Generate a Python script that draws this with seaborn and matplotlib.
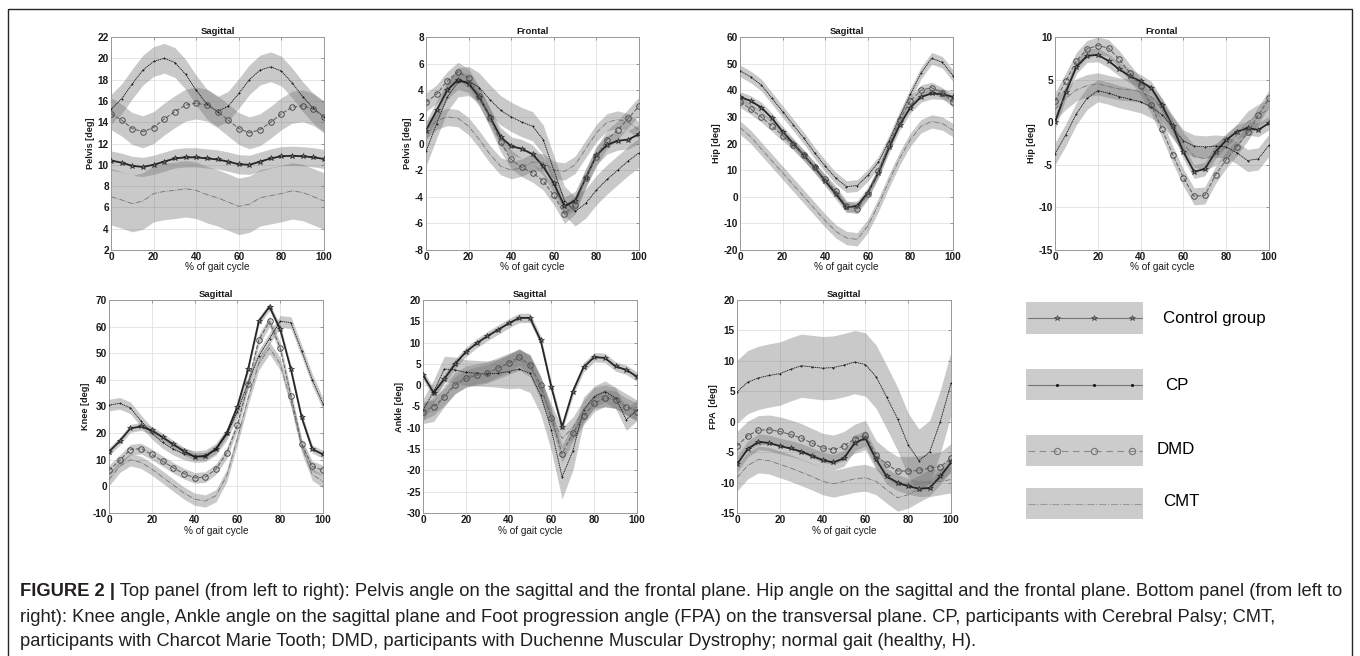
import numpy as np
import matplotlib
matplotlib.use("Agg")
import matplotlib.pyplot as plt
import seaborn as sns
from matplotlib.patches import Rectangle

# ---------------- data (every 5 % of gait cycle) ----
PCT = [0, 5, 10, 15, 20, 25, 30, 35, 40, 45, 50, 55, 60, 65, 70, 75, 80, 85, 90, 95, 100]
GROUPS = ["Control group", "CP", "DMD", "CMT"]

# Pelvis – sagittal
PS_CTRL = [10.4, 10.2, 9.9, 9.8, 10.0, 10.3, 10.6, 10.7, 10.7, 10.6, 10.5, 10.3, 10.05, 10.0, 10.3, 10.6, 10.8, 10.85, 10.8, 10.7, 10.55]
PS_CTRL_SD = 0.9
PS_CP = [15.2, 16.2, 17.6, 18.9, 19.7, 20.0, 19.6, 18.5, 17.0, 15.7, 15.0, 15.5, 16.7, 18.0, 18.9, 19.2, 18.8, 17.7, 16.4, 15.3, 14.5]
PS_CP_SD = 1.4
PS_DMD = [14.8, 14.2, 13.4, 13.1, 13.5, 14.3, 15.0, 15.6, 15.8, 15.6, 15.0, 14.2, 13.4, 13.0, 13.3, 14.0, 14.8, 15.4, 15.55, 15.2, 14.5]
PS_DMD_SD = 1.5
PS_CMT = [7.0, 6.7, 6.35, 6.6, 7.3, 7.5, 7.6, 7.75, 7.6, 7.2, 6.9, 6.5, 6.1, 6.3, 6.9, 7.1, 7.3, 7.55, 7.4, 7.0, 6.6]
PS_CMT_SD = 2.65

# Pelvis – frontal
PF_CTRL = [0.95, 2.5, 4.0, 4.8, 4.5, 3.5, 2.0, 0.5, -0.2, -0.4, -0.8, -1.7, -3.0, -4.7, -4.3, -2.6, -0.9, -0.1, 0.2, 0.3, 0.7]
PF_CTRL_SD = 0.7
PF_CP = [-0.6, 1.5, 3.5, 4.6, 4.7, 4.2, 3.3, 2.5, 2.0, 1.6, 1.3, 0.3, -2.0, -4.3, -5.1, -4.5, -3.5, -2.7, -2.0, -1.3, -0.7]
PF_CP_SD = 1.1
PF_DMD = [3.1, 3.7, 4.7, 5.4, 4.9, 3.6, 1.9, 0.1, -1.2, -1.8, -2.2, -2.8, -3.9, -5.3, -4.6, -2.6, -1.0, 0.3, 1.0, 1.9, 2.8]
PF_DMD_SD = 0.7
PF_CMT = [1.0, 1.7, 2.0, 1.9, 1.3, 0.3, -0.8, -1.7, -2.0, -1.8, -1.4, -1.4, -2.0, -2.1, -1.6, -0.4, 0.8, 1.6, 1.8, 1.6, 1.0]
PF_CMT_SD = 0.65

# Hip – sagittal
HS_CTRL = [37.5, 36.0, 33.5, 29.5, 24.5, 20.0, 15.5, 11.0, 6.0, 1.0, -4.0, -3.5, 1.5, 9.0, 18.5, 27.0, 33.5, 37.5, 38.8, 38.5, 37.5]
HS_CTRL_SD = 2.0
HS_CP = [47.3, 45.0, 42.0, 37.0, 32.0, 27.0, 22.0, 16.5, 11.5, 7.0, 3.8, 4.2, 8.0, 13.0, 21.0, 30.0, 38.5, 46.5, 52.0, 50.5, 45.5]
HS_CP_SD = 2.2
HS_DMD = [35.5, 33.0, 30.0, 26.5, 23.0, 19.5, 15.5, 11.0, 6.5, 2.0, -3.5, -4.5, 1.0, 9.5, 19.5, 29.0, 36.0, 40.0, 41.0, 39.0, 35.5]
HS_DMD_SD = 2.0
HS_CMT = [26.0, 22.5, 18.0, 13.5, 9.0, 4.5, 0.0, -4.5, -9.0, -13.0, -15.5, -16.0, -11.0, -3.0, 6.0, 14.5, 21.5, 26.5, 28.3, 27.5, 25.0]
HS_CMT_SD = 2.5

# Hip – frontal
HF_CTRL = [0.0, 3.5, 6.5, 7.8, 7.9, 7.2, 6.2, 5.4, 4.8, 4.0, 2.0, -0.5, -3.5, -5.8, -5.5, -3.5, -2.1, -1.1, -0.7, -0.9, -0.1]
HF_CTRL_SD = 0.8
HF_CP = [-3.7, -1.5, 1.0, 2.8, 3.7, 3.4, 3.0, 2.7, 2.4, 1.8, 0.9, -0.6, -2.2, -2.8, -2.9, -2.8, -2.9, -3.6, -4.5, -4.3, -2.7]
HF_CP_SD = 1.3
HF_DMD = [2.5, 4.8, 7.2, 8.6, 9.0, 8.7, 7.4, 5.8, 4.2, 2.0, -0.8, -3.8, -6.5, -8.7, -8.6, -6.2, -4.4, -2.9, -1.2, 0.8, 2.8]
HF_DMD_SD = 1.0
HF_CMT = [1.5, 2.8, 3.8, 4.3, 4.5, 4.2, 3.9, 3.8, 3.6, 3.0, 1.5, -0.5, -2.5, -4.0, -4.3, -3.8, -2.8, -1.5, 0.0, 0.8, 1.5]
HF_CMT_SD = 1.3

# Knee – sagittal
KN_CTRL = [13.0, 17.0, 21.8, 22.5, 21.0, 18.5, 15.8, 13.2, 11.2, 11.3, 14.0, 20.0, 30.0, 44.0, 62.0, 67.5, 59.0, 44.0, 26.0, 14.0, 12.0]
KN_CTRL_SD = 1.5
KN_CP = [30.5, 31.2, 29.5, 24.5, 20.0, 16.5, 14.0, 12.2, 11.2, 11.5, 14.0, 19.5, 28.0, 39.0, 49.0, 55.5, 62.0, 61.5, 51.0, 40.0, 31.0]
KN_CP_SD = 2.2
KN_DMD = [6.0, 9.8, 13.8, 14.2, 12.0, 9.5, 7.0, 4.8, 3.2, 3.5, 6.5, 12.5, 23.0, 38.5, 55.0, 62.0, 52.0, 34.0, 16.0, 7.5, 6.0]
KN_DMD_SD = 2.0
KN_CMT = [2.5, 7.5, 10.0, 9.0, 6.5, 3.5, 0.5, -2.5, -4.8, -5.5, -3.5, 4.0, 18.0, 33.0, 46.0, 52.0, 46.0, 32.0, 15.0, 4.5, 1.8]
KN_CMT_SD = 2.3

# Ankle – sagittal
AN_CTRL = [2.4, -1.8, 1.5, 5.0, 7.8, 9.8, 11.5, 13.0, 14.5, 15.8, 15.8, 10.5, -0.5, -9.8, -1.5, 4.2, 6.6, 6.4, 4.4, 3.6, 2.0]
AN_CTRL_SD = 1.1
AN_CP = [-5.8, -1.5, 3.8, 3.6, 3.0, 2.8, 2.7, 2.8, 3.2, 3.8, 2.8, -2.3, -10.5, -21.5, -15.5, -5.8, -2.7, -1.5, -3.0, -8.1, -5.8]
AN_CP_SD = [2.5, 2.8, 3.0, 3.0, 3.0, 3.0, 3.0, 3.3, 4.0, 4.5, 4.5, 4.5, 5.0, 5.2, 4.5, 3.0, 2.5, 2.5, 2.5, 2.5, 2.5]
AN_DMD = [-6.2, -5.0, -2.7, 0.0, 1.6, 2.3, 2.8, 4.0, 5.2, 6.6, 4.8, 0.0, -7.7, -16.1, -11.2, -7.3, -4.2, -3.0, -3.4, -5.0, -6.2]
AN_DMD_SD = 2.0
AN_CMT = [-6.5, -6.0, -2.5, 0.5, 2.0, 2.5, 3.0, 4.0, 5.0, 6.0, 4.5, -1.0, -7.0, -12.5, -10.0, -6.0, -3.0, -2.5, -3.0, -4.5, -6.0]
AN_CMT_SD = 2.5

# Foot progression angle
FP_CTRL = [-7.0, -4.5, -3.3, -3.5, -4.0, -4.4, -4.9, -5.6, -6.3, -6.7, -6.0, -3.5, -2.7, -6.2, -9.0, -10.0, -10.6, -11.0, -10.9, -9.0, -6.7]
FP_CTRL_SD = 1.3
FP_CP = [4.9, 6.5, 7.2, 7.6, 7.9, 8.6, 9.2, 9.0, 8.8, 8.9, 9.3, 9.8, 9.4, 7.4, 4.0, 0.5, -3.8, -6.4, -5.0, 0.0, 6.3]
FP_CP_SD = 5.2
FP_DMD = [-4.0, -2.3, -1.4, -1.3, -1.6, -2.1, -2.7, -3.5, -4.3, -4.6, -4.0, -2.8, -2.2, -5.5, -7.0, -8.1, -8.1, -8.0, -7.6, -7.4, -6.0]
FP_DMD_SD = 2.4
FP_CMT = [-9.2, -7.2, -6.2, -6.4, -7.0, -7.6, -8.3, -9.0, -9.8, -10.2, -9.8, -9.4, -9.2, -9.8, -11.2, -12.5, -12.0, -11.0, -10.1, -9.8, -9.5]
FP_CMT_SD = 2.2

TITLES = ["Sagittal", "Frontal", "Sagittal", "Frontal", "Sagittal", "Sagittal", "Sagittal"]
YLABELS = ["Pelvis [deg]", "Pelvis [deg]", "Hip [deg]", "Hip [deg]", "Knee [deg]", "Ankle [deg]", "FPA  [deg]"]
YLIMS = [(2, 22, 2), (-8, 8, 2), (-20, 60, 10), (-15, 10, 5), (-10, 70, 10), (-30, 20, 5), (-15, 20, 5)]
XLABEL = "% of gait cycle"

CAPTION_BOLD = "FIGURE 2 |"
CAPTION_LINES = [
    " Top panel (from left to right): Pelvis angle on the sagittal and the frontal plane. Hip angle on the sagittal and the frontal plane. Bottom panel (from left to",
    "right): Knee angle, Ankle angle on the sagittal plane and Foot progression angle (FPA) on the transversal plane. CP, participants with Cerebral Palsy; CMT,",
    "participants with Charcot Marie Tooth; DMD, participants with Duchenne Muscular Dystrophy; normal gait (healthy, H).",
]

PANELS = [
    [(PS_CTRL, PS_CTRL_SD), (PS_CP, PS_CP_SD), (PS_DMD, PS_DMD_SD), (PS_CMT, PS_CMT_SD)],
    [(PF_CTRL, PF_CTRL_SD), (PF_CP, PF_CP_SD), (PF_DMD, PF_DMD_SD), (PF_CMT, PF_CMT_SD)],
    [(HS_CTRL, HS_CTRL_SD), (HS_CP, HS_CP_SD), (HS_DMD, HS_DMD_SD), (HS_CMT, HS_CMT_SD)],
    [(HF_CTRL, HF_CTRL_SD), (HF_CP, HF_CP_SD), (HF_DMD, HF_DMD_SD), (HF_CMT, HF_CMT_SD)],
    [(KN_CTRL, KN_CTRL_SD), (KN_CP, KN_CP_SD), (KN_DMD, KN_DMD_SD), (KN_CMT, KN_CMT_SD)],
    [(AN_CTRL, AN_CTRL_SD), (AN_CP, AN_CP_SD), (AN_DMD, AN_DMD_SD), (AN_CMT, AN_CMT_SD)],
    [(FP_CTRL, FP_CTRL_SD), (FP_CP, FP_CP_SD), (FP_DMD, FP_DMD_SD), (FP_CMT, FP_CMT_SD)],
]

# ---------------- styling ----------------
sns.set_theme(style="whitegrid")
plt.rcParams["font.family"] = ["Liberation Sans", "DejaVu Sans"]
plt.rcParams["axes.unicode_minus"] = False

LINE_STYLES = {
    "Control group": dict(color="0.15", linewidth=1.3, linestyle="-", marker="*", markersize=4.2,
                          markerfacecolor="0.4", markeredgecolor="0.1", markeredgewidth=0.4),
    "CP": dict(color="0.05", linewidth=0.6, linestyle=(0, (1.5, 0.8)), marker=".", markersize=2.0,
               markerfacecolor="k", markeredgecolor="k", markeredgewidth=0.3),
    "DMD": dict(color="0.4", linewidth=0.8, linestyle="--", marker="o", markersize=4.0,
                markerfacecolor="none", markeredgecolor="0.3", markeredgewidth=0.7),
    "CMT": dict(color="0.45", linewidth=0.6, linestyle="-."),
}

W, H = 1360, 656
fig = plt.figure(figsize=(W / 100, H / 100), dpi=100)
fig.patch.set_facecolor("white")


def px_axes(x0, y0, x1, y1):
    return fig.add_axes([x0 / W, 1 - y1 / H, (x1 - x0) / W, (y1 - y0) / H])


RECTS = [(111, 37, 324, 250), (426, 37, 639, 250), (740, 37, 953, 250), (1055, 37, 1269, 250),
         (109, 300, 323, 513), (423, 300, 637, 513), (737, 300, 951, 513)]

x = np.array(PCT, dtype=float)
for i, rect in enumerate(RECTS):
    ax = px_axes(*rect)
    ax.set_facecolor("white")
    series = PANELS[i]
    for (mean, sd) in series:
        m = np.array(mean, dtype=float)
        s = np.broadcast_to(np.array(sd, dtype=float), m.shape)
        ax.fill_between(x, m - s, m + s, color="0.45", alpha=0.38, linewidth=0, zorder=1)
    for g, (mean, sd) in zip(GROUPS, series):
        sns.lineplot(x=x, y=np.array(mean, dtype=float), ax=ax, errorbar=None, zorder=3,
                     **LINE_STYLES[g])
    lo, hi, step = YLIMS[i]
    ax.set_xlim(0, 100)
    ax.set_ylim(lo, hi)
    ax.set_xticks(range(0, 101, 20))
    ax.set_yticks(np.arange(lo, hi + step / 2, step))
    ax.set_axisbelow(True)
    ax.grid(True, color="0.88", linewidth=0.6)
    for sp in ax.spines.values():
        sp.set_visible(True)
        sp.set_color("0.6")
        sp.set_linewidth(0.7)
    ax.tick_params(direction="in", length=2.5, width=0.5, color="0.45", top=True, right=True,
                   labelsize=7.2, pad=1.5, labelcolor="0.1")
    plt.setp(ax.get_xticklabels(), fontweight="bold")
    plt.setp(ax.get_yticklabels(), fontweight="bold")
    ax.set_title(TITLES[i], fontsize=6.8, fontweight="bold", pad=2.5, color="0.1")
    ax.set_ylabel(YLABELS[i], fontsize=6.6, fontweight="bold", labelpad=2, color="0.1")
    ax.set_xlabel(XLABEL, fontsize=7.2, labelpad=0.3, color="0.1")

# ---------------- overlay in pixel coordinates: legend, caption, frame ----------
ov = fig.add_axes([0, 0, 1, 1], zorder=-1)
ov.set_xlim(0, W)
ov.set_ylim(H, 0)
ov.axis("off")

leg_boxes = [(302, 334), (369, 400), (435, 466), (488, 519)]
leg_text = [(1163, 318), (1165, 386), (1157, 450), (1163, 502)]
leg_line = {
    "Control group": dict(color="0.45", linewidth=0.8, linestyle="-"),
    "CP": dict(color="0.45", linewidth=0.8, linestyle="-"),
    "DMD": dict(color="0.55", linewidth=0.8, linestyle=(0, (6, 4))),
    "CMT": dict(color="0.6", linewidth=0.8, linestyle="-."),
}
leg_mark = {
    "Control group": dict(marker="*", markersize=4, markerfacecolor="0.5", markeredgecolor="0.2", markeredgewidth=0.4),
    "CP": dict(marker=".", markersize=2.5, markerfacecolor="k", markeredgecolor="k"),
    "DMD": dict(marker="o", markersize=4.5, markerfacecolor="none", markeredgecolor="0.45", markeredgewidth=0.8),
    "CMT": None,
}
for g, (y0, y1), (tx, ty) in zip(GROUPS, leg_boxes, leg_text):
    ov.add_patch(Rectangle((1026, y0), 117, y1 - y0, facecolor="0.8", edgecolor="none"))
    yc = (y0 + y1) / 2
    ov.plot([1028, 1142], [yc, yc], **leg_line[g])
    if leg_mark[g] is not None:
        ov.plot([1057, 1094, 1132], [yc, yc, yc], linestyle="none", **leg_mark[g])
    ov.text(tx, ty, g, fontsize=12.2, va="center", ha="left", color="black")

# frame around figure + caption
ov.add_patch(Rectangle((8, 9), 1344, 700, facecolor="none", edgecolor="0.15", linewidth=1.0, clip_on=False))

renderer = fig.canvas.get_renderer()
cap_color = "#231f20"
cap_y = [592, 617, 641]
cap_x0, cap_x1 = 20, 1338


def line1_width(fs):
    a = ov.text(0, 0, CAPTION_BOLD, fontsize=fs, fontweight="bold")
    b = ov.text(0, 0, CAPTION_LINES[0], fontsize=fs)
    w = a.get_window_extent(renderer).width + b.get_window_extent(renderer).width
    a.remove()
    b.remove()
    return w


cap_fs = 11.2
cap_fs = cap_fs * (cap_x1 - cap_x0) / line1_width(cap_fs)

tb = ov.text(cap_x0, cap_y[0], CAPTION_BOLD, fontsize=cap_fs, fontweight="bold", va="center", ha="left", color=cap_color)
bb = tb.get_window_extent(renderer)
ov.text(bb.x1, cap_y[0], CAPTION_LINES[0], fontsize=cap_fs, va="center", ha="left", color=cap_color)
for line, yy in zip(CAPTION_LINES[1:], cap_y[1:]):
    ov.text(cap_x0, yy, line, fontsize=cap_fs, va="center", ha="left", color=cap_color)

fig.savefig("out.png", dpi=100)
